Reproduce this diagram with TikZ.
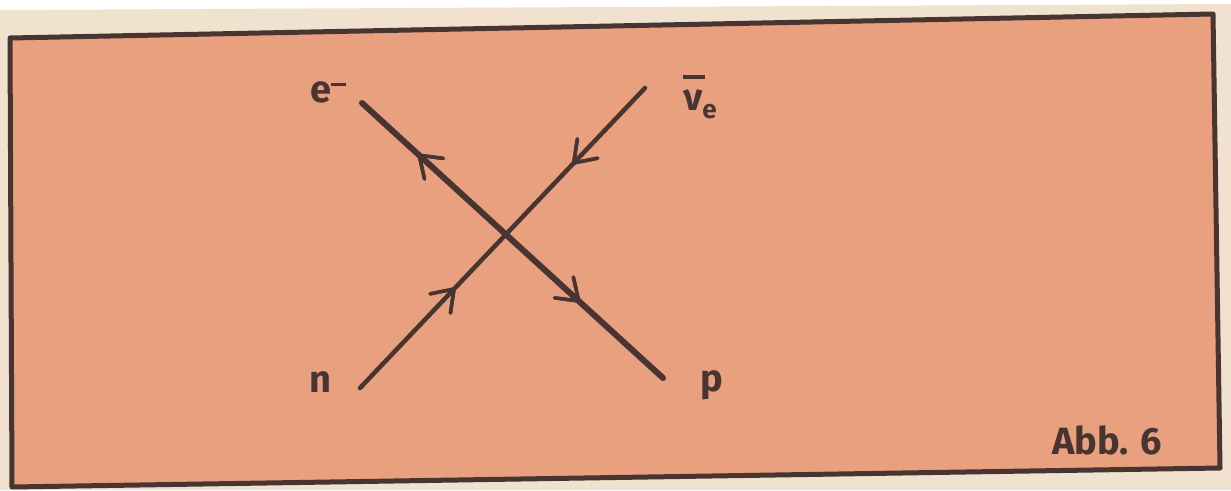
\documentclass[tikz,border=0pt]{standalone}
\usepackage{fontspec}
\setsansfont{Fira Sans}
\usetikzlibrary{decorations.markings}
\definecolor{paper}{RGB}{240,226,206}
\definecolor{salmon}{RGB}{232,160,126}
\definecolor{ink}{RGB}{72,52,48}
\tikzset{
  lbl/.style={text=ink,font=\sffamily\bfseries\fontsize{38}{44}\selectfont,inner sep=0pt},
  fermion/.style={draw=ink,line cap=round},
  chev/.style={draw=ink,line width=3.5pt,line cap=round,line join=miter},
  fwd/.style={postaction={decorate},decoration={markings,mark=at position #1 with {\draw[chev] (-20pt,14pt) -- (0pt,0pt) -- (-20pt,-14pt);}}},
  bwd/.style={postaction={decorate},decoration={markings,mark=at position #1 with {\draw[chev] (20pt,14pt) -- (0pt,0pt) -- (20pt,-14pt);}}}
}
\begin{document}
\begin{tikzpicture}[x=1pt,y=1pt]
\useasboundingbox (0,-490) rectangle (1231,0);
\fill[white] (0,-490) rectangle (1231,0);
\fill[paper] (0,-10) -- (1231,-4) -- (1231,-490) -- (0,-490) -- cycle;
\draw[ink,line width=5pt,fill=salmon,line join=round] (10,-38) -- (1213,-14) -- (1220,-468) -- (12,-487) -- cycle;
% labels
\node[lbl] (em) at (328,-92) {e\raisebox{16pt}{\rule{15pt}{3.5pt}}};
\node[lbl] (nu) at (700,-97) {\makebox[0pt][l]{\raisebox{32pt}{\rule{22pt}{3.5pt}}}ν\raisebox{-8pt}{\fontsize{26}{30}\selectfont e}};
\node[lbl] (n) at (320,-382) {n};
\node[lbl] (p) at (712,-385) {p};
\node[lbl] (abb) at (1107,-440) {Abb. 6};
% line endpoints
\coordinate (ea) at (362,-103);
\coordinate (pb) at (663,-378);
\coordinate (na) at (360,-388);
\coordinate (nub) at (645,-88);
\draw[fermion,line width=6pt,bwd=0.19,fwd=0.72] (ea) -- (pb);
\draw[fermion,line width=4.5pt,fwd=0.33,bwd=0.75] (na) -- (nub);
\end{tikzpicture}
\end{document}
